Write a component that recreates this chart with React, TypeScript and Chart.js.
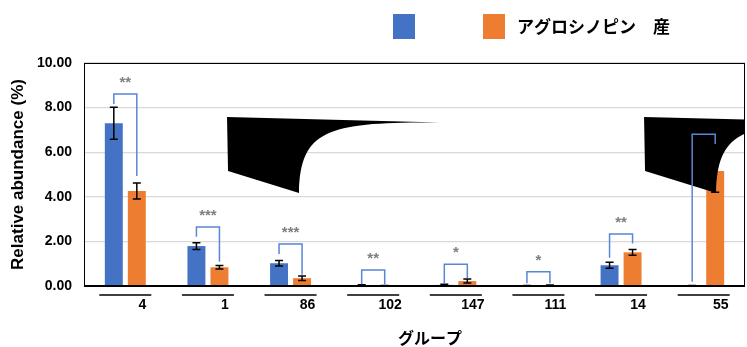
import React, { useEffect, useRef } from "react";
import { Chart, registerables } from "chart.js";
Chart.register(...registerables);

const categories = ["4", "1", "86", "102", "147", "111", "14", "55"];
const seriesNames = ["", "アグロシノピン　産"];
const seriesColors = ["#4472C4", "#ED7D31"];
const blueValues = [7.3, 1.79, 1.02, 0.03, 0.05, 0.01, 0.93, 0.01];
const blueErrors = [0.72, 0.15, 0.12, 0.03, 0.03, 0.01, 0.13, 0.01];
const orangeValues = [4.26, 0.84, 0.35, 0.01, 0.22, 0.02, 1.51, 5.16];
const orangeErrors = [0.36, 0.08, 0.1, 0.01, 0.09, 0.02, 0.13, 0.96];
const sigLabels = ["**", "***", "***", "**", "*", "*", "**", ""];
const bracketTops = [8.61, 2.65, 1.88, 0.72, 0.97, 0.64, 2.33, 6.8];
const bracketLeftEnds = [8.16, 2.21, 1.43, 0.08, 0.09, 0.12, 1.27, 0.19];
const bracketRightEnds = [4.93, 1.09, 0.5, 0.08, 0.35, 0.12, 1.91, 6.37];
const yTitle = "Relative abundance (%)";
const xTitle = "グループ";
// decorative callout shapes anchored in category-index / value units
const calloutAnchorX = [1.231, 6.278];
const calloutAnchorY = 7.58;

const NUM_FONT = "'Liberation Sans', Arial, sans-serif";
const JP_FONT = "'Noto Sans CJK JP', 'Noto Sans', sans-serif";

const overlayPlugin = {
  id: "overlay",
  afterDatasetsDraw(chart: any) {
    const ctx = chart.ctx;
    const xs = chart.scales.x;
    const ys = chart.scales.y;
    const area = chart.chartArea;
    const errs = [blueErrors, orangeErrors];
    const vals = [blueValues, orangeValues];
    // error bars
    ctx.save();
    ctx.strokeStyle = "#000";
    ctx.lineWidth = 1.5;
    for (let d = 0; d < 2; d++) {
      const meta = chart.getDatasetMeta(d);
      meta.data.forEach((bar: any, i: number) => {
        const v = vals[d][i];
        const e = errs[d][i];
        const yt = ys.getPixelForValue(v + e);
        const yb = ys.getPixelForValue(Math.max(0, v - e));
        ctx.beginPath();
        ctx.moveTo(bar.x, yt);
        ctx.lineTo(bar.x, yb);
        ctx.moveTo(bar.x - 4, yt);
        ctx.lineTo(bar.x + 4, yt);
        ctx.moveTo(bar.x - 4, yb);
        ctx.lineTo(bar.x + 4, yb);
        ctx.stroke();
      });
    }
    ctx.restore();

    // callout shapes
    ctx.save();
    ctx.beginPath();
    ctx.rect(area.left, area.top, area.right - area.left, area.bottom - area.top);
    ctx.clip();
    ctx.fillStyle = "#000";
    calloutAnchorX.forEach((ax) => {
      const x0 = xs.getPixelForValue(ax);
      const y0 = ys.getPixelForValue(calloutAnchorY);
      ctx.beginPath();
      ctx.moveTo(x0, y0);
      ctx.lineTo(x0 + 213, y0 + 5.5);
      ctx.bezierCurveTo(x0 + 103, y0 + 5, x0 + 73, y0 + 11, x0 + 72, y0 + 76);
      ctx.lineTo(x0 + 1, y0 + 54);
      ctx.closePath();
      ctx.fill();
    });
    ctx.restore();

    // brackets
    const m0 = chart.getDatasetMeta(0);
    const m1 = chart.getDatasetMeta(1);
    ctx.save();
    ctx.strokeStyle = "#5B85D6";
    ctx.lineWidth = 1.5;
    categories.forEach((_, i) => {
      const xl = m0.data[i].x;
      const xr = m1.data[i].x;
      const yt = ys.getPixelForValue(bracketTops[i]);
      ctx.beginPath();
      ctx.moveTo(xl, ys.getPixelForValue(bracketLeftEnds[i]));
      ctx.lineTo(xl, yt);
      ctx.lineTo(xr, yt);
      ctx.lineTo(xr, ys.getPixelForValue(bracketRightEnds[i]));
      ctx.stroke();
      if (sigLabels[i]) {
        ctx.fillStyle = "#7F7F7F";
        ctx.font = `bold 15px ${NUM_FONT}`;
        ctx.textAlign = "center";
        ctx.textBaseline = "alphabetic";
        const m = ctx.measureText(sigLabels[i]);
        const gh = m.actualBoundingBoxAscent - m.actualBoundingBoxDescent;
        const cy = yt - 10;
        ctx.fillText(sigLabels[i], (xl + xr) / 2, cy + m.actualBoundingBoxAscent - gh / 2);
      }
    });
    ctx.restore();

    // plot box
    ctx.save();
    ctx.strokeStyle = "#000";
    ctx.lineWidth = 1;
    ctx.strokeRect(area.left + 0.5, area.top + 0.5, area.right - area.left - 1, area.bottom - area.top);
    ctx.lineWidth = 2;
    ctx.beginPath();
    ctx.moveTo(area.left, area.bottom);
    ctx.lineTo(area.right, area.bottom);
    ctx.stroke();
    ctx.restore();
  },
  afterDraw(chart: any) {
    const ctx = chart.ctx;
    const xs = chart.scales.x;
    ctx.save();
    // category labels with lines
    ctx.strokeStyle = "#000";
    ctx.lineWidth = 1.5;
    ctx.fillStyle = "#000";
    ctx.font = `bold 14px ${NUM_FONT}`;
    ctx.textAlign = "center";
    ctx.textBaseline = "middle";
    categories.forEach((c, i) => {
      const cx = xs.getPixelForValue(i);
      ctx.beginPath();
      ctx.moveTo(cx - 26, 295);
      ctx.lineTo(cx + 26, 295);
      ctx.stroke();
      ctx.fillText(c, cx + 17, 305);
    });
    // x title
    ctx.font = `bold 16px ${JP_FONT}`;
    ctx.fillText(xTitle, 430, 338);
    // legend
    const boxX = [393, 483];
    seriesNames.forEach((n, i) => {
      ctx.fillStyle = seriesColors[i];
      ctx.fillRect(boxX[i], 14, 22, 25);
      if (n) {
        ctx.fillStyle = "#000";
        ctx.font = `bold 17px ${JP_FONT}`;
        ctx.textAlign = "left";
        ctx.fillText(n, boxX[i] + 34, 27);
      }
    });
    ctx.restore();
  },
};

export default function App() {
  const ref = useRef<HTMLCanvasElement | null>(null);
  useEffect(() => {
    document.body.style.margin = "0";
    const canvas = ref.current!;
    const chart = new Chart(canvas, {
      type: "bar",
      data: {
        labels: categories,
        datasets: [
          {
            label: seriesNames[0],
            data: blueValues,
            backgroundColor: seriesColors[0],
            categoryPercentage: 0.557,
            barPercentage: 0.78,
          },
          {
            label: seriesNames[1],
            data: orangeValues,
            backgroundColor: seriesColors[1],
            categoryPercentage: 0.557,
            barPercentage: 0.78,
          },
        ],
      },
      options: {
        responsive: false,
        animation: false,
        devicePixelRatio: 1,
        layout: { padding: { top: 63, right: 2, left: 0, bottom: 0 } },
        plugins: { legend: { display: false }, tooltip: { enabled: false } },
        scales: {
          x: {
            grid: { display: false },
            border: { display: false },
            ticks: { display: false },
            afterFit: (s: any) => {
              s.height = 61;
            },
          },
          y: {
            min: 0,
            max: 10,
            ticks: {
              stepSize: 2,
              padding: 12,
              color: "#000",
              font: { family: NUM_FONT, size: 14, weight: "bold" },
              callback: (v: any) => Number(v).toFixed(2),
            },
            grid: { color: "#D9D9D9", drawTicks: false, lineWidth: 1.2 },
            border: { display: false },
            title: {
              display: true,
              text: yTitle,
              color: "#000",
              font: { family: NUM_FONT, size: 17, weight: "bold" },
              padding: { top: 8, bottom: 0 },
            },
            afterFit: (s: any) => {
              s.width = 84;
            },
          },
        },
      },
      plugins: [overlayPlugin],
    } as any);
    return () => chart.destroy();
  }, []);
  return <canvas ref={ref} width={747} height={347} style={{ display: "block" }} />;
}
